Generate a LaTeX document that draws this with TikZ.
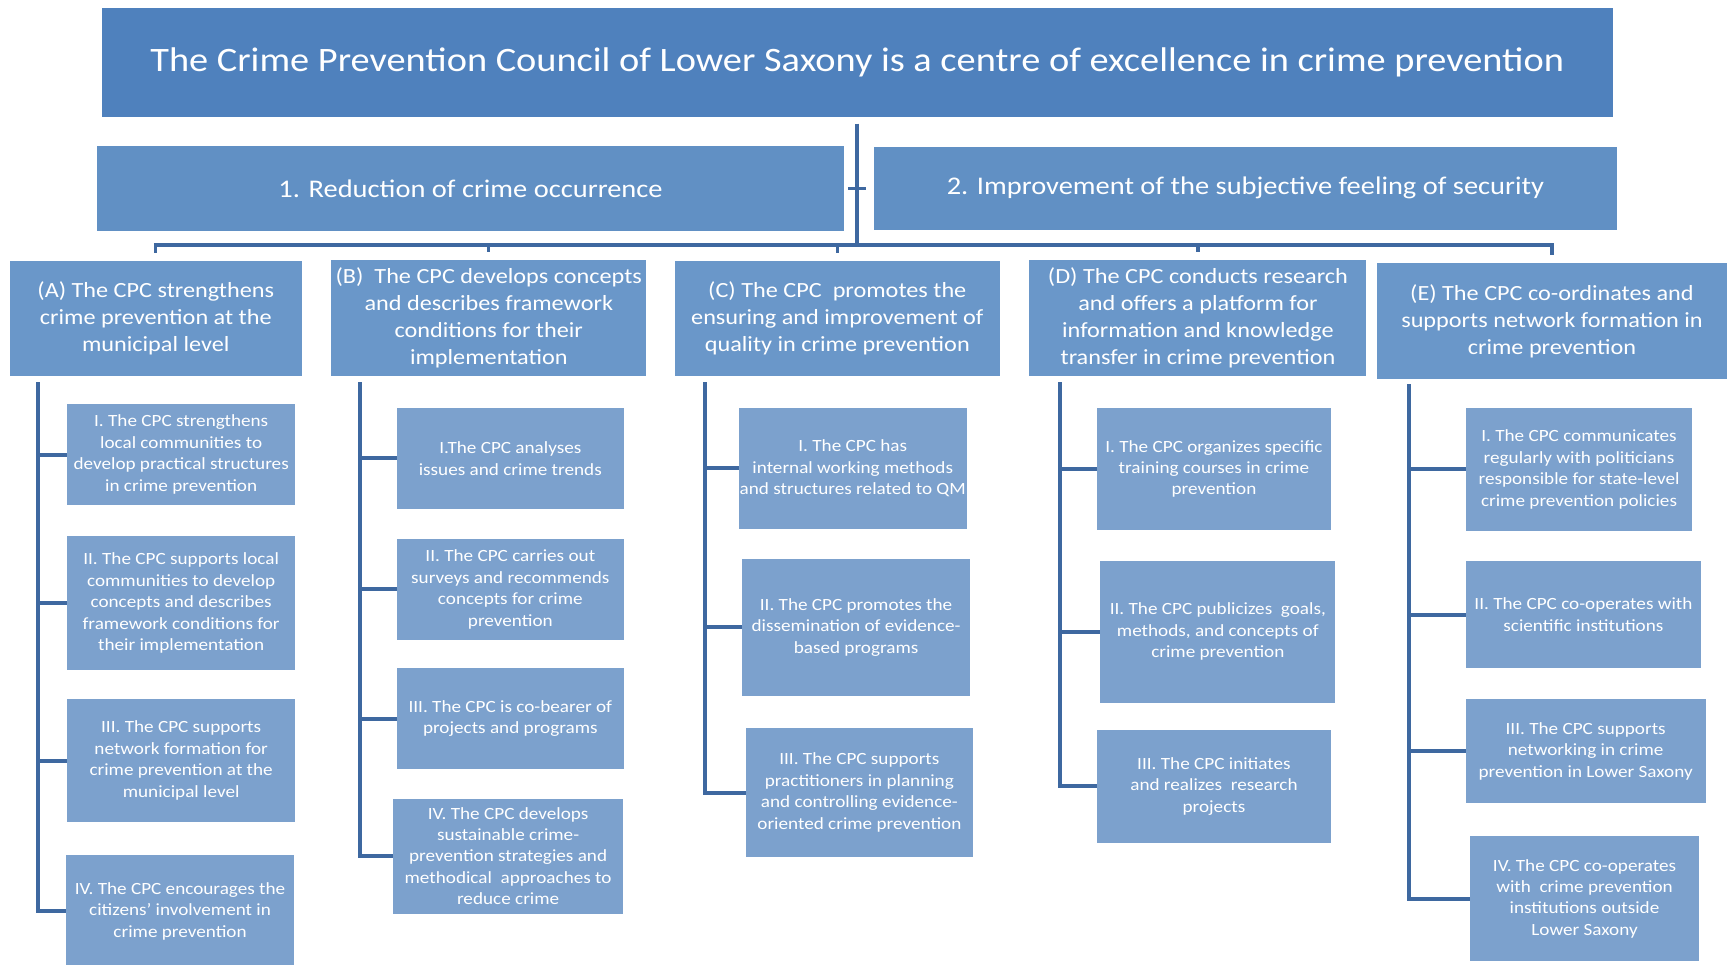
\documentclass[tikz,border=0pt]{standalone}
\usepackage{fontspec}
\setmainfont{Carlito}[FakeStretch=1.12]
\definecolor{titlecol}{RGB}{79,129,189}
\definecolor{lvlone}{RGB}{97,144,196}
\definecolor{lvltwo}{RGB}{106,151,201}
\definecolor{lvlthree}{RGB}{124,161,205}
\definecolor{linecol}{RGB}{62,104,160}
\begin{document}
\begin{tikzpicture}[x=1pt,y=-1pt,
  boxbase/.style={inner sep=0pt, outer sep=0pt, text=white, align=center, draw=none},
  titlebox/.style={boxbase, fill=titlecol, font=\fontsize{31}{37}\selectfont},
  onebox/.style={boxbase, fill=lvlone, font=\fontsize{23}{28}\selectfont},
  twobox/.style={boxbase, fill=lvltwo, font=\fontsize{19.6}{24.5}\selectfont},
  threebox/.style={boxbase, fill=lvlthree, font=\fontsize{15.5}{19.4}\selectfont},
  conn/.style={draw=linecol, line width=3.6pt},
  thinconn/.style={draw=linecol, line width=3pt}
]
\useasboundingbox (0,0) rectangle (1568,873);
\fill[white] (0,0) rectangle (1568,873);

% title and goals
\node[titlebox, minimum width=1368, minimum height=99] (t) at (776,56.5)
  {The Crime Prevention Council of Lower Saxony is a centre of excellence in crime prevention};
\node[onebox, minimum width=676, minimum height=77] (g1) at (426,170.5)
  {1. Reduction of crime occurrence};
\node[onebox, minimum width=673, minimum height=75] (g2) at (1127.5,170.5)
  {2. Improvement of the subjective feeling of security};

% level 2
\node[twobox, minimum width=264, minimum height=104] (A) at (141,288)
  {(A) The CPC strengthens\\crime prevention at the\\municipal level};
\node[twobox, minimum width=285, minimum height=105] (B) at (442.5,287.5)
  {(B)\ \ The CPC develops concepts\\and describes framework\\conditions for their\\implementation};
\node[twobox, minimum width=294, minimum height=104] (C) at (758,288)
  {(C) The CPC\ \ promotes the\\ensuring and improvement of\\quality in crime prevention};
\node[twobox, minimum width=305, minimum height=105] (D) at (1084.5,287.5)
  {(D) The CPC conducts research\\and offers a platform for\\information and knowledge\\transfer in crime prevention};
\node[twobox, minimum width=316, minimum height=105] (E) at (1405,290.5)
  {(E) The CPC co-ordinates and\\supports network formation in\\crime prevention};

% level 3, column A
\node[threebox, minimum width=206, minimum height=91] (a1) at (164,411.5)
  {I. The CPC strengthens\\local communities to\\develop practical structures\\in crime prevention};
\node[threebox, minimum width=206, minimum height=122] (a2) at (164,546)
  {II. The CPC supports local\\communities to develop\\concepts and describes\\framework conditions for\\their implementation};
\node[threebox, minimum width=206, minimum height=111] (a3) at (164,688.5)
  {III. The CPC supports\\network formation for\\crime prevention at the\\municipal level};
\node[threebox, minimum width=206, minimum height=102] (a4) at (163,825)
  {IV. The CPC encourages the\\citizens’ involvement in\\crime prevention};

% column B
\node[threebox, minimum width=206, minimum height=91] (b1) at (462,415)
  {I.The CPC analyses\\issues and crime trends};
\node[threebox, minimum width=206, minimum height=91] (b2) at (462,533.5)
  {II. The CPC carries out\\surveys and recommends\\concepts for crime\\prevention};
\node[threebox, minimum width=206, minimum height=91] (b3) at (462,650.5)
  {III. The CPC is co-bearer of\\projects and programs};
\node[threebox, minimum width=208, minimum height=104] (b4) at (460,775)
  {IV. The CPC develops\\sustainable crime-\\prevention strategies and\\methodical\ \ approaches to\\reduce crime};

% column C
\node[threebox, minimum width=206, minimum height=110] (c1) at (772,424)
  {I. The CPC has\\internal working methods\\and structures related to QM};
\node[threebox, minimum width=206, minimum height=124] (c2) at (775,568)
  {II. The CPC promotes the\\dissemination of evidence-\\based programs};
\node[threebox, minimum width=206, minimum height=117] (c3) at (778,717.5)
  {III. The CPC supports\\practitioners in planning\\and controlling evidence-\\oriented crime prevention};

% column D
\node[threebox, minimum width=212, minimum height=111] (d1) at (1099,424.5)
  {I. The CPC organizes specific\\training courses in crime\\prevention};
\node[threebox, minimum width=213, minimum height=128] (d2) at (1102.5,572)
  {II. The CPC publicizes\ \ goals,\\methods, and concepts of\\crime prevention};
\node[threebox, minimum width=212, minimum height=102] (d3) at (1099,712)
  {III. The CPC initiates\\and realizes\ \ research\\projects};

% column E
\node[threebox, minimum width=205, minimum height=112] (e1) at (1429.5,425)
  {I. The CPC communicates\\regularly with politicians\\responsible for state-level\\crime prevention policies};
\node[threebox, minimum width=213, minimum height=97] (e2) at (1433.5,556.5)
  {II. The CPC co-operates with\\scientific institutions};
\node[threebox, minimum width=217, minimum height=94] (e3) at (1435.5,680)
  {III. The CPC supports\\networking in crime\\prevention in Lower Saxony};
\node[threebox, minimum width=207, minimum height=113] (e4) at (1434.5,813.5)
  {IV. The CPC co-operates\\with\ \ crime prevention\\institutions outside\\Lower Saxony};

% top connectors
\coordinate (hub) at (776,222);
\draw[conn, shorten <=6pt] (t.south) -- (hub);
\draw[thinconn, shorten <=4pt, shorten >=7pt] (g1.east) -- (g2.west);
\draw[conn] ([xshift=-1.8pt]A.north |- hub) -- ([xshift=1.8pt]E.north |- hub);
\foreach \n in {A,B,C,D,E}
  \draw[thinconn, shorten >=7pt] (\n.north |- hub) -- (\n.north);

% column connectors
\coordinate (cA) at (34,346);
\coordinate (cB) at (326,346);
\coordinate (cC) at (638,346);
\coordinate (cD) at (960,346);
\coordinate (cE) at (1276,348);
\draw[conn] (cA) |- (a4.west);
\draw[conn] (cB) |- (b4.west);
\draw[conn] (cC) |- (c3.west);
\draw[conn] (cD) |- (d3.west);
\draw[conn] (cE) |- (e4.west);
\foreach \n in {a1,a2,a3} \draw[conn] (cA |- \n.west) -- (\n.west);
\foreach \n in {b1,b2,b3} \draw[conn] (cB |- \n.west) -- (\n.west);
\foreach \n in {c1,c2} \draw[conn] (cC |- \n.west) -- (\n.west);
\foreach \n in {d1,d2} \draw[conn] (cD |- \n.west) -- (\n.west);
\foreach \n in {e1,e2,e3} \draw[conn] (cE |- \n.west) -- (\n.west);
\end{tikzpicture}
\end{document}
